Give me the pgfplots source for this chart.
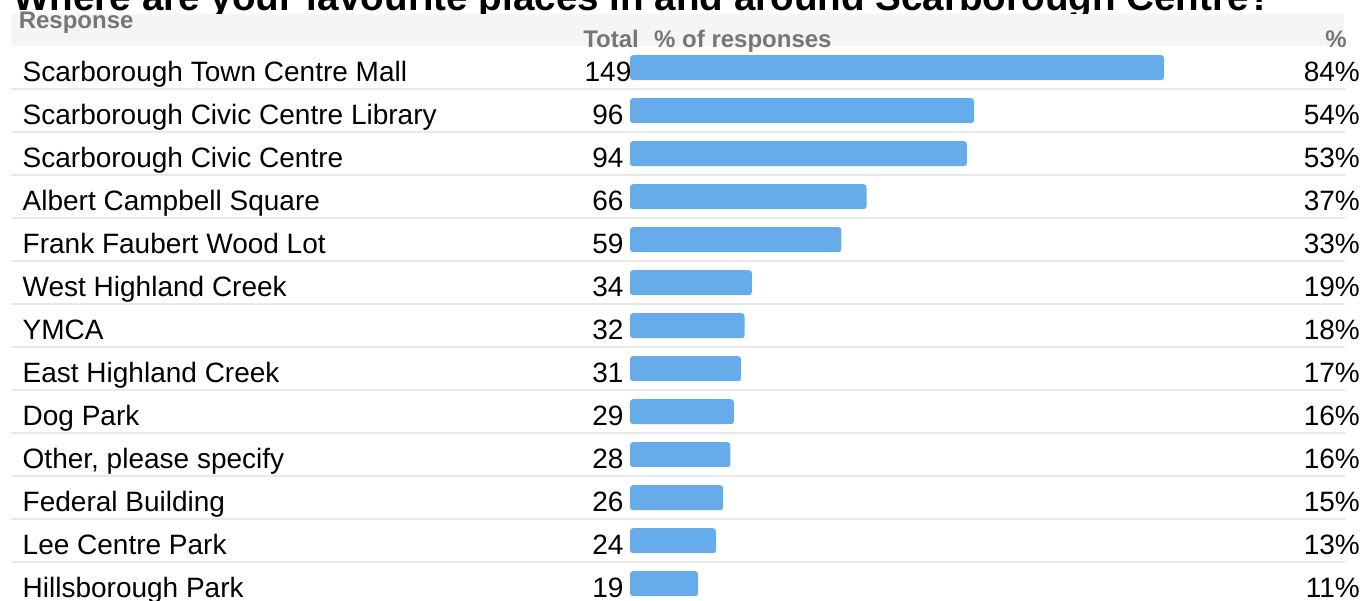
\documentclass[border=0pt]{standalone}
\usepackage{pgfplots}
\pgfplotsset{compat=1.18}
\usepackage{pgfplotstable}
\usepackage{fontspec}
\setmainfont{Liberation Sans}
\definecolor{barblue}{RGB}{102,172,235}
\definecolor{headbg}{RGB}{245,245,245}
\definecolor{sepgray}{RGB}{232,232,232}
\definecolor{headtxt}{RGB}{118,118,118}

\pgfplotstableread{
idx count
0 149
1 96
2 94
3 66
4 59
5 34
6 32
7 31
8 29
9 28
10 26
11 24
12 19
}\datatable

\newcommand{\rowfont}{\fontsize{28}{32}\selectfont}
\newcommand{\headfont}{\fontsize{24}{28}\selectfont\bfseries\color{headtxt}}
\newcommand{\rowtext}[4]{%
  \node[anchor=base west, inner sep=0pt, font=\rowfont, yshift=-14pt] at (axis cs:-169.5,#1) {#2};
  \node[anchor=base, inner sep=0pt, font=\rowfont, yshift=-14pt] at (axis cs:-6.14,#1) {#3};
  \node[anchor=base east, inner sep=0pt, font=\rowfont, yshift=-14pt] at (axis cs:203.68,#1) {#4\%};
}

\begin{document}
\begin{tikzpicture}
\begin{axis}[
  scale only axis, width=1364pt, height=601pt,
  at={(0,0)}, anchor=south west,
  hide axis, clip=false,
  xmin=-175.78, xmax=204.80,
  ymin=-1.5744, ymax=12.402, y dir=reverse,
  xbar, bar width=25pt,
]
% title (partly hidden by the page edge and the header band)
\node[anchor=base west, inner sep=0pt, font=\fontsize{38.6}{42}\selectfont\bfseries] at (axis cs:-172.1,-1.33) {Where are your favourite places in and around Scarborough Centre?};
% header band
\fill[headbg] (axis cs:-172.71,-1.249) rectangle (axis cs:199.22,-0.505);
% separators
\pgfplotsinvokeforeach{0.5,1.5,2.5,3.5,4.5,5.5,6.5,7.5,8.5,9.5,10.5,11.5}{
  \draw[sepgray, line width=2pt] (axis cs:-172.71,#1) -- (axis cs:199.5,#1);
}
\addplot[fill=barblue, draw=none, rounded corners=3pt] table[x=count, y=idx] {\datatable};

% header
\node[anchor=base west, inner sep=0pt, font=\headfont] at (axis cs:-170.6,-0.923) {Response};
\node[anchor=base west, inner sep=0pt, font=\headfont] at (axis cs:-13.1,-0.481) {Total};
\node[anchor=base west, inner sep=0pt, font=\headfont] at (axis cs:6.70,-0.481) {\% of responses};
\node[anchor=base east, inner sep=0pt, font=\headfont] at (axis cs:200.06,-0.481) {\%};

\rowtext{0}{Scarborough Town Centre Mall}{149}{84}
\rowtext{1}{Scarborough Civic Centre Library}{96}{54}
\rowtext{2}{Scarborough Civic Centre}{94}{53}
\rowtext{3}{Albert Campbell Square}{66}{37}
\rowtext{4}{Frank Faubert Wood Lot}{59}{33}
\rowtext{5}{West Highland Creek}{34}{19}
\rowtext{6}{YMCA}{32}{18}
\rowtext{7}{East Highland Creek}{31}{17}
\rowtext{8}{Dog Park}{29}{16}
\rowtext{9}{Other, please specify}{28}{16}
\rowtext{10}{Federal Building}{26}{15}
\rowtext{11}{Lee Centre Park}{24}{13}
\rowtext{12}{Hillsborough Park}{19}{11}
\end{axis}
\pgfresetboundingbox
\useasboundingbox (0,0) rectangle (1364pt,601pt);
\end{tikzpicture}
\end{document}
